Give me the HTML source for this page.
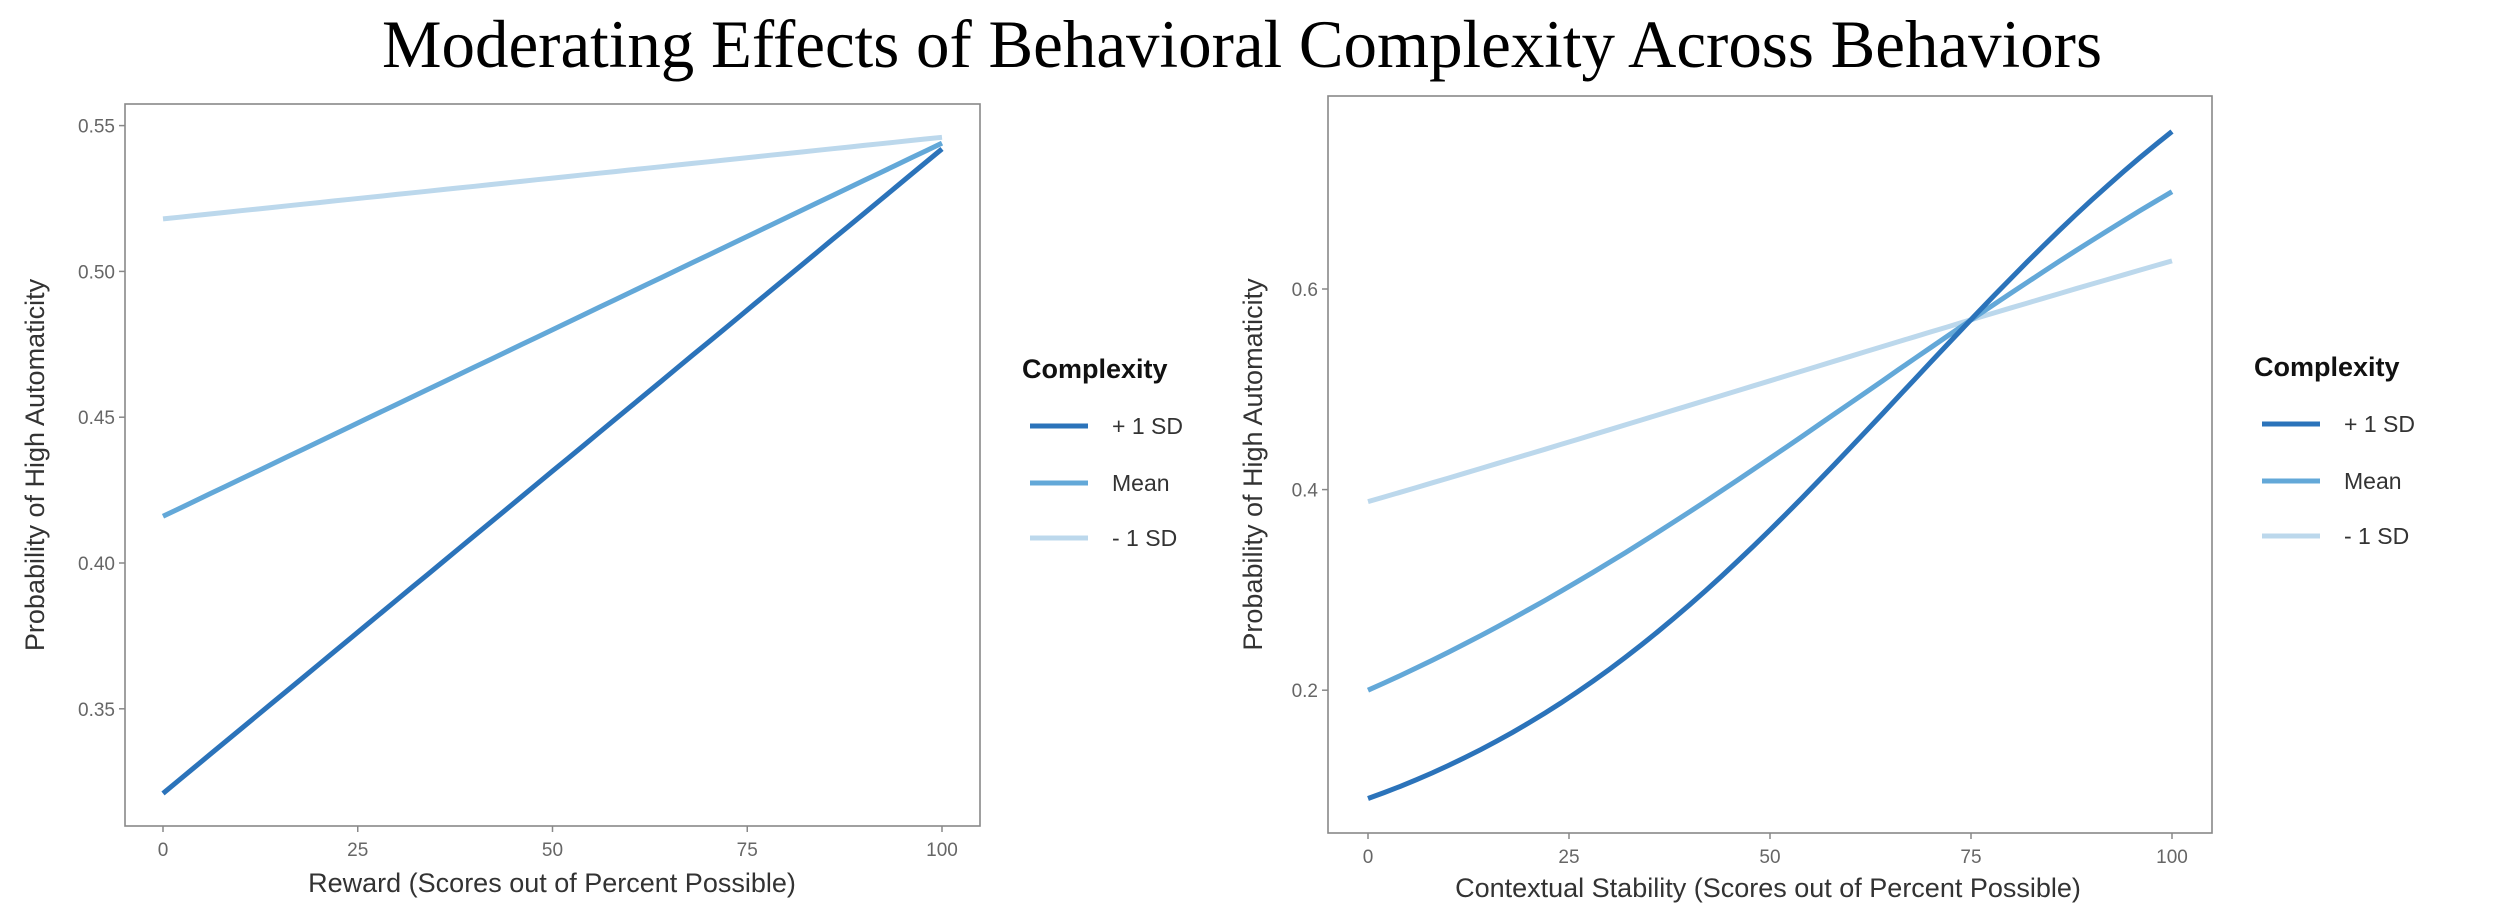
<!DOCTYPE html>
<html><head><meta charset="utf-8"><style>
html,body{margin:0;padding:0;background:#fff;width:2500px;height:921px;overflow:hidden}
svg text{font-family:"Liberation Sans",sans-serif}
</style></head><body>
<svg id="s" width="2500" height="921" xmlns="http://www.w3.org/2000/svg">
<text x="1242" y="67" text-anchor="middle" font-family="Liberation Serif, serif" style="font-family:'Liberation Serif',serif" font-size="68" textLength="1720" lengthAdjust="spacingAndGlyphs" fill="#000">Moderating Effects of Behavioral Complexity Across Behaviors</text>
<g id="g"></g>
</svg>
<script>
var g=document.getElementById('g'),h='';
function lg(p){return Math.log(p/(1-p));}
function sg(x){return 1/(1+Math.exp(-x));}
var cols=['#2b73ba','#63a8d8','#bcd8ec'];
function panel(o){
  h+='<rect x="'+o.bx0+'" y="'+o.by0+'" width="'+(o.bx1-o.bx0)+'" height="'+(o.by1-o.by0)+'" fill="none" stroke="#888" stroke-width="1.6"/>';
  function X(v){return o.x0+(o.x100-o.x0)*v/100;}
  function Y(v){return o.ya+(o.va-v)*o.ys;}
  o.yt.forEach(function(t){var y=Y(t);
    h+='<line x1="'+(o.bx0-6)+'" x2="'+o.bx0+'" y1="'+y+'" y2="'+y+'" stroke="#888" stroke-width="1.5"/>';
    h+='<text x="'+(o.bx0-10)+'" y="'+(y+7)+'" text-anchor="end" font-size="19" fill="#666">'+o.fmt(t)+'</text>';});
  [0,25,50,75,100].forEach(function(t){var x=X(t);
    h+='<line x1="'+x+'" x2="'+x+'" y1="'+o.by1+'" y2="'+(o.by1+6)+'" stroke="#888" stroke-width="1.5"/>';
    h+='<text x="'+x+'" y="'+(o.by1+30)+'" text-anchor="middle" font-size="19" fill="#666">'+t+'</text>';});
  for(var k=2;k>=0;k--){var a=lg(o.p[k][0]),b=lg(o.p[k][1]),d='';
    for(var i=0;i<=100;i+=2){var v=o.lin?(o.p[k][0]+(o.p[k][1]-o.p[k][0])*i/100):sg(a+(b-a)*i/100);d+=(i?'L':'M')+X(i).toFixed(1)+','+Y(v).toFixed(1);}
    h+='<path d="'+d+'" fill="none" stroke="'+cols[k]+'" stroke-width="5"/>';}
  h+='<text x="'+o.xtx+'" y="'+o.xty+'" text-anchor="middle" font-size="27" fill="#333">'+o.xt+'</text>';
  h+='<text transform="translate('+o.ytx+','+((o.by0+o.by1)/2)+') rotate(-90)" text-anchor="middle" font-size="27" fill="#333">Probability of High Automaticity</text>';
  h+='<text x="'+o.lx+'" y="'+(o.ly+10)+'" font-size="27" font-weight="bold" fill="#111">Complexity</text>';
  var lb=['+ 1 SD','Mean','- 1 SD'],ky=[58,115,170];
  for(var k=0;k<3;k++){var y=o.ly+ky[k];
    h+='<line x1="'+(o.lx+8)+'" x2="'+(o.lx+66)+'" y1="'+y+'" y2="'+y+'" stroke="'+cols[k]+'" stroke-width="5"/>';
    h+='<text x="'+(o.lx+90)+'" y="'+(y+8)+'" font-size="23" fill="#333">'+lb[k]+'</text>';}
}
panel({bx0:125,bx1:980,by0:104,by1:826,x0:163,x100:942,ya:125.6,va:0.55,ys:145.8/0.05,lin:true,
  yt:[0.35,0.40,0.45,0.50,0.55],fmt:function(t){return t.toFixed(2);},
  p:[[0.321,0.542],[0.416,0.544],[0.518,0.546]],
  xt:'Reward (Scores out of Percent Possible)',xtx:552,xty:892,ytx:44,lx:1022,ly:368});
panel({bx0:1328,bx1:2212,by0:96,by1:833,x0:1368,x100:2172,ya:289,va:0.6,ys:1003,
  yt:[0.2,0.4,0.6],fmt:function(t){return t.toFixed(1);},
  p:[[0.092,0.757],[0.2,0.697],[0.388,0.628]],
  xt:'Contextual Stability (Scores out of Percent Possible)',xtx:1768,xty:897,ytx:1262,lx:2254,ly:366});
g.innerHTML=h;
</script>
</body></html>
